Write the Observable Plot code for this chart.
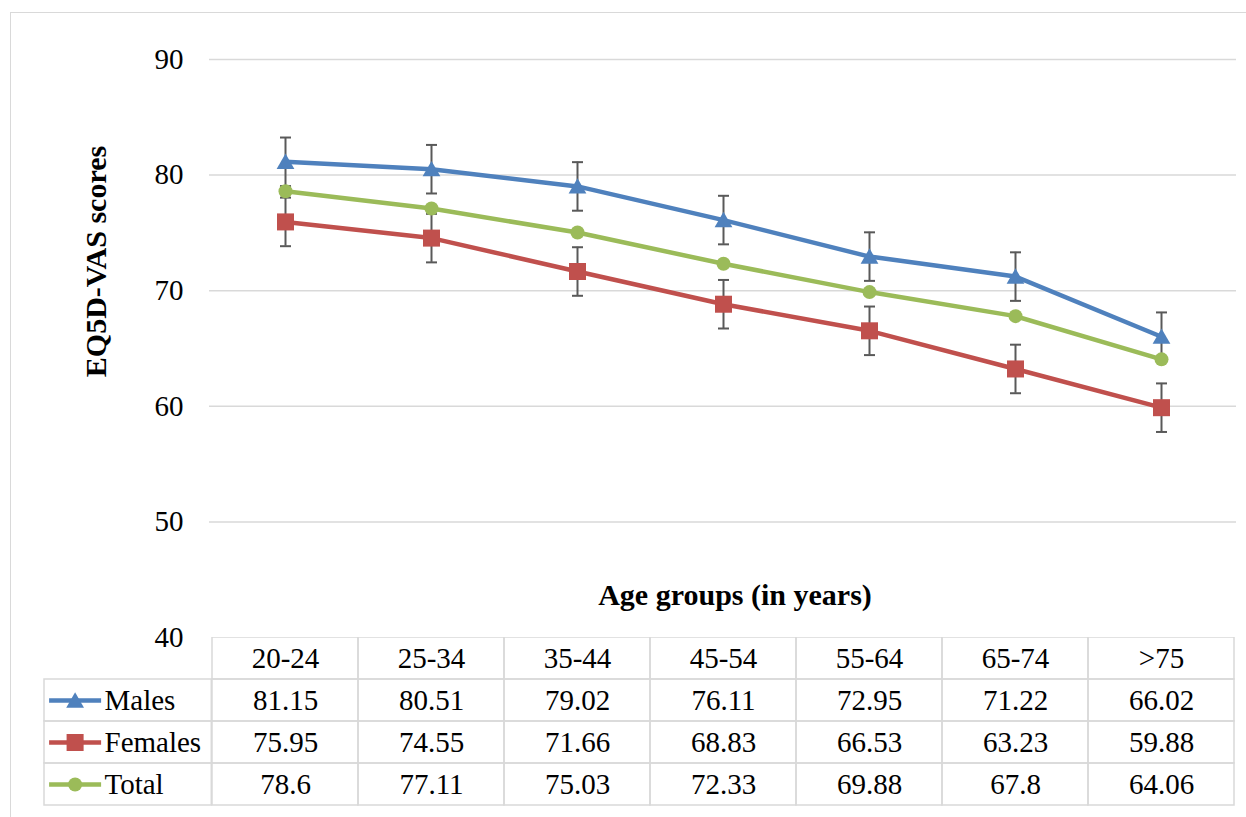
<!DOCTYPE html>
<html><head><meta charset="utf-8">
<script src="https://cdn.jsdelivr.net/npm/d3@7"></script>
<script src="https://cdn.jsdelivr.net/npm/@observablehq/plot@0.6"></script>
<style>
html,body{margin:0;padding:0;background:#fff;overflow:hidden;width:1246px;height:817px;}
#wrap{position:relative;width:1246px;height:817px;overflow:hidden;}
#wrap > svg{position:absolute;left:0;font-family:'Liberation Serif',serif !important;}
#wrap svg text{font-family:'Liberation Serif',serif;}
#border{position:absolute;left:10px;top:12px;width:1300px;height:900px;border:1.5px solid #d9d9d9;pointer-events:none;z-index:5;}
</style></head><body><div id="wrap"><div id="border"></div></div>
<script>
// ---- data ----
const categories = ["20-24", "25-34", "35-44", "45-54", "55-64", "65-74", ">75"];
const males   = [81.15, 80.51, 79.02, 76.11, 72.95, 71.22, 66.02];
const females = [75.95, 74.55, 71.66, 68.83, 66.53, 63.23, 59.88];
const total   = [78.6, 77.11, 75.03, 72.33, 69.88, 67.8, 64.06];
const malesErr   = [2.1, 2.1, 2.1, 2.1, 2.1, 2.1, 2.1];
const femalesErr = [2.1, 2.1, 2.1, 2.1, 2.1, 2.1, 2.1];
const yTicks = [40, 50, 60, 70, 80, 90];
const seriesNames = ["Males", "Females", "Total"];
const xTitle = "Age groups (in years)";
const yTitle = "EQ5D-VAS scores";

// ---- styling ----
const FONT = "Liberation Serif";
const seriesColors = ["#4F81BD", "#C0504D", "#9BBB59"];
const seriesSymbols = ["triangle", "square", "circle"];
const seriesR = [6.6, 9.6, 7];
const seriesDy = [2, 0, 0];
const seriesValues = [males, females, total];
const seriesErr = [malesErr, femalesErr, null];

const long = seriesNames.flatMap((s, i) => categories.map((c, j) => ({series: s, age: c, value: seriesValues[i][j]})));
const errs = seriesNames.flatMap((s, i) => seriesErr[i] ? categories.map((c, j) => ({
  series: s, age: c, lo: seriesValues[i][j] - seriesErr[i][j], hi: seriesValues[i][j] + seriesErr[i][j]})) : []);

const capSymbol = {draw(ctx) { ctx.moveTo(-5.5, 0); ctx.lineTo(5.5, 0); }};
const legendLine = {draw(ctx) { ctx.moveTo(-26, 0); ctx.lineTo(26, 0); }};

const markerMarks = (data, extra) => seriesNames.map((s, i) =>
  Plot.dot(data.filter(d => d.series === s), Object.assign({
    symbol: seriesSymbols[i], r: seriesR[i], fill: seriesColors[i], stroke: "none", dy: seriesDy[i]
  }, extra)));

const main = Plot.plot({
  width: 1246, height: 817,
  marginLeft: 209, marginRight: 10, marginTop: 59, marginBottom: 180,
  style: {background: "transparent", fontFamily: FONT},
  x: {type: "point", domain: categories, padding: 0.5, axis: null},
  y: {domain: [40, 90], axis: null},
  color: {domain: seriesNames, range: seriesColors},
  marks: [
    Plot.ruleY(yTicks.filter(t => t > 40), {stroke: "#d9d9d9", strokeWidth: 1.5}),
    Plot.axisY(yTicks, {tickSize: 0, tickPadding: 26, fontSize: 29, fontFamily: FONT, fill: "#000", label: null}),
    Plot.line(long, {x: "age", y: "value", stroke: "series", z: "series", strokeWidth: 4.5}),
    Plot.ruleX(errs, {x: "age", y1: "lo", y2: "hi", stroke: "#595959", strokeWidth: 2}),
    Plot.dot(errs, {x: "age", y: "lo", symbol: capSymbol, stroke: "#595959", fill: "none", strokeWidth: 2}),
    Plot.dot(errs, {x: "age", y: "hi", symbol: capSymbol, stroke: "#595959", fill: "none", strokeWidth: 2}),
    ...markerMarks(long, {x: "age", y: "value"}),
    Plot.text([xTitle], {frameAnchor: "bottom", lineAnchor: "middle", dx: 12, dy: -42, fontSize: 30, fontWeight: "bold", fontFamily: FONT, fill: "#000"}),
    Plot.text([yTitle], {frameAnchor: "left", textAnchor: "middle", lineAnchor: "middle", rotate: -90, dx: -113, dy: -87, fontSize: 30, fontWeight: "bold", fontFamily: FONT, fill: "#000"})
  ]
});
main.style.top = "0px";

// ---- data table ----
const rows = ["header", ...seriesNames];
const headerCells = categories.map(c => ({row: "header", age: c, label: c}));
const valueCells = seriesNames.flatMap((s, i) => categories.map((c, j) => ({row: s, age: c, label: String(seriesValues[i][j])})));
const cells = headerCells.concat(valueCells);
const legendRows = seriesNames.map(s => ({row: s, age: categories[0], series: s}));
const bw = (1246 - 209 - 10) / categories.length;

const table = Plot.plot({
  width: 1246, height: 180,
  marginLeft: 209, marginRight: 10, marginTop: 0, marginBottom: 12,
  style: {background: "transparent", fontFamily: FONT},
  x: {type: "band", domain: categories, padding: 0, axis: null},
  y: {type: "band", domain: rows, padding: 0, axis: null},
  color: {domain: seriesNames, range: seriesColors},
  marks: [
    Plot.cell(cells, {x: "age", y: "row", fill: "none", stroke: "#d9d9d9", strokeWidth: 1.5}),
    Plot.cell(legendRows, {x: "age", y: "row", fill: "none", stroke: "#d9d9d9", strokeWidth: 1.5, insetLeft: -168, insetRight: bw}),
    Plot.text(cells, {x: "age", y: "row", text: "label", fontSize: 29, fontFamily: FONT, fill: "#000"}),
    Plot.dot(legendRows, {x: "age", y: "row", symbol: legendLine, stroke: "series", fill: "none", strokeWidth: 4.5, dx: -210.4}),
    ...markerMarks(legendRows, {x: "age", y: "row", dx: -210.4}),
    Plot.text(legendRows, {x: "age", y: "row", text: "series", textAnchor: "start", dx: -181, fontSize: 29, fontFamily: FONT, fill: "#000"})
  ]
});
table.style.top = "637px";

const wrap = document.getElementById("wrap");
wrap.appendChild(main);
wrap.appendChild(table);
</script>
</body></html>
